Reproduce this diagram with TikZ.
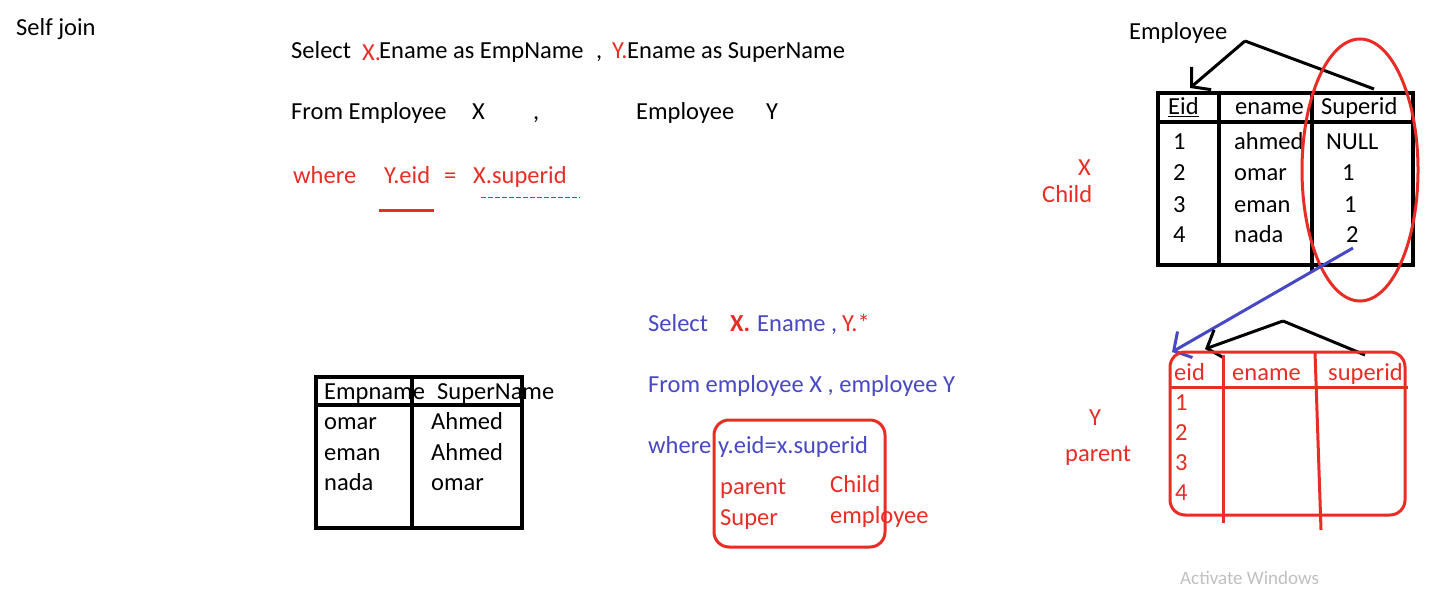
\documentclass[tikz,border=0pt]{standalone}
\usepackage{fontspec}
\setmainfont{Carlito}
\usetikzlibrary{arrows.meta,shapes.geometric}
\definecolor{sqred}{RGB}{232,45,38}
\definecolor{sqblue}{RGB}{72,72,196}
\definecolor{wingray}{RGB}{192,192,192}
\begin{document}
\begin{tikzpicture}[x=1pt,y=-1pt,
  txt/.style={anchor=base west,inner sep=0pt,font=\fontsize{24.5}{28}\selectfont},
  rtxt/.style={txt,text=sqred},
  btxt/.style={txt,text=sqblue},
  tblk/.style={draw=black,line width=3.5pt},
  tred/.style={draw=sqred,line width=3pt},
  barb/.style={-{Straight Barb[length=13pt,width=30pt]}}]
\useasboundingbox[fill=white] (0,0) rectangle (1450,596);

% title
\node[txt] (self) at (16,36) {Self join};

% first query
\node[txt] (s1) at (291,59) {Select};
\node[rtxt] (s1x) at (362,61) {X.};
\node[txt] (s1a) at (379,59) {Ename as EmpName};
\node[txt] (s1c) at (596,59) {,};
\node[rtxt] (s1y) at (612,59) {Y.};
\node[txt] (s1b) at (627,59) {Ename as SuperName};

\node[txt] (f1) at (291,120) {From Employee};
\node[txt] (f1x) at (472,120) {X};
\node[txt] (f1c) at (533,120) {,};
\node[txt] (f1e) at (636,120) {Employee};
\node[txt] (f1y) at (766,120) {Y};

\node[rtxt] (w1) at (293,184) {where};
\node[rtxt] (w1y) at (384,184) {Y.eid};
\node[rtxt] (w1q) at (444,184) {=};
\node[rtxt] (w1x) at (473,184) {X.superid};
\coordinate (u1a) at (379,210);
\coordinate (u1b) at (434,210);
\draw[sqred,line width=3pt] (u1a) -- (u1b);
\coordinate (u2a) at (481,198);
\coordinate (u2b) at (580,198);
\draw[sqred,line width=1pt,dash pattern=on 5pt off 2pt] (u2a) -- (u2b);

% Employee table
\node[txt] (emp) at (1129,40) {Employee};
\coordinate (empT) at (1245,41);
\coordinate (eidT) at (1190,88);
\coordinate (supT) at (1374,89);
\draw[line width=3pt,barb] (empT) -- (eidT);
\draw[line width=3pt] (empT) -- (supT);

\draw[tblk] (1158,93) rectangle (1413,265);
\draw[tblk] (1158,122) -- (1413,122);
\draw[tblk] (1219,93) -- (1219,267);
\draw[tblk] (1312,93) -- (1312,271);

\node[txt] (eid) at (1168,115) {\underline{Eid}};
\node[txt] (ename) at (1235,115) {ename};
\node[txt] (superid) at (1321,115) {Superid};
\foreach \n/\nm/\s/\sx/\yy in {1/ahmed/NULL/1326/150, 2/omar/1/1342/181, 3/eman/1/1344/212, 4/nada/2/1346/242}{
  \node[txt] (eno\n) at (1173,\yy) {\n};
  \node[txt] (enm\n) at (1234,\yy) {\nm};
  \node[txt] (esp\n) at (\sx,\yy) {\s};
}
\node[draw=sqred,line width=3pt,ellipse,minimum width=116,minimum height=262,inner sep=0pt] (ell) at (1360,170) {};

\node[rtxt] (xlab) at (1078,176) {X};
\node[rtxt] (child) at (1042,202) {Child};

% blue arrow
\coordinate (bl1) at (1353,248);
\coordinate (bl2) at (1172,352);
\draw[sqblue,line width=3pt,barb] (bl1) -- (bl2);

% Y parent table
\node[rtxt] (ylab) at (1089,425) {Y};
\node[rtxt] (parent) at (1065,461) {parent};

\coordinate (ptop) at (1283,321);
\coordinate (peid) at (1205,349);
\coordinate (psup) at (1365,355);
\draw[line width=3pt,barb] (ptop) -- (peid);
\draw[line width=3pt] (ptop) -- (psup);

\draw[tred,rounded corners=15pt] (1170,352) rectangle (1405,515);
\draw[tred] (1170,387) -- (1408,387);
\draw[tred] (1223,355) -- (1223,523);
\draw[tred] (1315,352) -- (1321,530);
\node[rtxt] (peidh) at (1174,380) {eid};
\node[rtxt] (penh) at (1232,380) {ename};
\node[rtxt] (psph) at (1328,380) {superid};
\foreach \n/\yy in {1/410,2/440,3/470,4/500}{
  \node[rtxt] (pn\n) at (1175,\yy) {\n};
}

% result table
\draw[tblk] (316,377) rectangle (522,528);
\draw[tblk] (316,405) -- (522,405);
\draw[tblk] (412,377) -- (412,530);
\node[txt] (rh1) at (324,399) {Empname};
\node[txt] (rh2) at (437,399) {SuperName};
\node[txt] (r11) at (324,429) {omar};
\node[txt] (r12) at (431,429) {Ahmed};
\node[txt] (r21) at (324,460) {eman};
\node[txt] (r22) at (431,460) {Ahmed};
\node[txt] (r31) at (324,490) {nada};
\node[txt] (r32) at (431,490) {omar};

% second query
\node[btxt] (s2) at (648,331) {Select};
\node[rtxt] (s2x) at (730,331) {\bfseries X.};
\node[btxt] (s2a) at (757,331) {Ename ,};
\node[rtxt] (s2y) at (842,331) {Y.*};
\node[btxt] (f2) at (648,392) {From employee X , employee Y};
\node[btxt] (w2) at (648,453) {where};
\node[btxt] (w2c) at (718,453) {y.eid=x.superid};
\draw[tred,rounded corners=15pt] (714,420) rectangle (885,547);
\node[rtxt] (pp) at (720,494) {parent};
\node[rtxt] (ps) at (720,525) {Super};
\node[rtxt] (pc) at (830,492) {Child};
\node[rtxt] (pe) at (830,523) {employee};

% watermark
\node[txt,text=wingray,font=\fontsize{19}{22}\selectfont] (aw) at (1180,584) {Activate Windows};
\end{tikzpicture}
\end{document}
